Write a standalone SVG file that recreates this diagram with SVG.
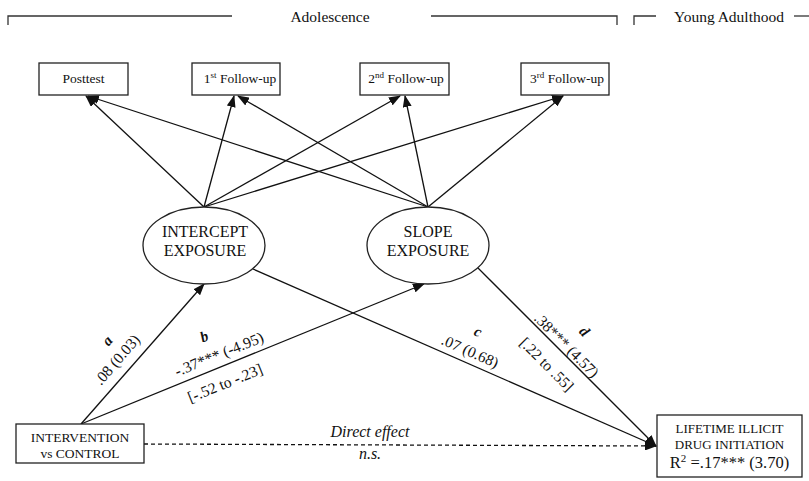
<svg xmlns="http://www.w3.org/2000/svg" width="809" height="481" viewBox="0 0 809 481">
<style>
text{font-family:"Liberation Serif","Times New Roman",serif;fill:#111;}
.box{fill:#fff;stroke:#222;stroke-width:1.3;}
.ell{fill:#fff;stroke:#222;stroke-width:1.3;}
.con{stroke:#111;stroke-width:1.3;fill:none;}
.dash{stroke:#111;stroke-width:1.3;fill:none;stroke-dasharray:4 3;}
.br{stroke:#333;stroke-width:1.3;fill:none;}
.t13{font-size:13.5px;}
.t15{font-size:16px;}
.lab{font-size:15.5px;}
.bi{font-size:15px;font-weight:bold;font-style:italic;}
.it{font-size:16px;font-style:italic;}
</style>
<defs>
<marker id="ah" markerWidth="12" markerHeight="9" refX="11" refY="4.5" orient="auto" markerUnits="userSpaceOnUse">
<path d="M0,0 L12,4.5 L0,9 z" fill="#111"/>
</marker>
</defs>

<g id="headers">
<path class="br" d="M8,25 V16 H232"/>
<path class="br" d="M431,16 H617 V25"/>
<path class="br" d="M634,25 V16 H656"/>
<path class="br" d="M794,16 H809"/>
<text x="330" y="22" text-anchor="middle" style="font-size:15.5px">Adolescence</text>
<text x="729" y="22" text-anchor="middle" style="font-size:15.5px">Young Adulthood</text>
</g>

<g id="connectors">
<line class="con" x1="204" y1="207" x2="86" y2="96" marker-end="url(#ah)"/>
<line class="con" x1="204" y1="207" x2="234" y2="96" marker-end="url(#ah)"/>
<line class="con" x1="204" y1="207" x2="400" y2="96" marker-end="url(#ah)"/>
<line class="con" x1="204" y1="207" x2="563" y2="96" marker-end="url(#ah)"/>
<line class="con" x1="428" y1="207" x2="88" y2="96" marker-end="url(#ah)"/>
<line class="con" x1="428" y1="207" x2="238" y2="96" marker-end="url(#ah)"/>
<line class="con" x1="428" y1="207" x2="405" y2="96" marker-end="url(#ah)"/>
<line class="con" x1="428" y1="207" x2="563" y2="96" marker-end="url(#ah)"/>
<line class="con" x1="81" y1="424" x2="204" y2="284" marker-end="url(#ah)"/>
<line class="con" x1="81" y1="424" x2="424" y2="284" marker-end="url(#ah)"/>
<line class="con" x1="253" y1="269" x2="656" y2="446" marker-end="url(#ah)"/>
<line class="con" x1="478" y1="268" x2="656" y2="446" marker-end="url(#ah)"/>
<line class="dash" x1="144" y1="444" x2="656" y2="446" marker-end="url(#ah)"/>
</g>

<g id="posttest">
<rect class="box" x="39" y="63" width="89" height="32"/>
<text class="t13" x="83.5" y="82.5" text-anchor="middle">Posttest</text>
</g>
<g id="followup1">
<rect class="box" x="192" y="63" width="88" height="32"/>
<text class="t13" x="240" y="82.5" text-anchor="middle">1<tspan font-size="9" dy="-5">st</tspan><tspan dy="5"> Follow-up</tspan></text>
</g>
<g id="followup2">
<rect class="box" x="360" y="63" width="89" height="32"/>
<text class="t13" x="406" y="82.5" text-anchor="middle">2<tspan font-size="9" dy="-5">nd</tspan><tspan dy="5"> Follow-up</tspan></text>
</g>
<g id="followup3">
<rect class="box" x="521" y="63" width="88" height="32"/>
<text class="t13" x="567" y="82.5" text-anchor="middle">3<tspan font-size="9" dy="-5">rd</tspan><tspan dy="5"> Follow-up</tspan></text>
</g>

<g id="intercept">
<ellipse class="ell" cx="204" cy="245.5" rx="61" ry="38.5"/>
<text class="t15" x="205" y="237" text-anchor="middle">INTERCEPT</text>
<text class="t15" x="205" y="256" text-anchor="middle">EXPOSURE</text>
</g>
<g id="slope">
<ellipse class="ell" cx="428" cy="245.5" rx="61" ry="38.5"/>
<text class="t15" x="428" y="237" text-anchor="middle">SLOPE</text>
<text class="t15" x="428" y="256" text-anchor="middle">EXPOSURE</text>
</g>

<g id="intervention">
<rect class="box" x="16" y="424" width="128" height="39"/>
<text class="t13" x="80" y="442" text-anchor="middle">INTERVENTION</text>
<text class="t13" x="80" y="458" text-anchor="middle">vs CONTROL</text>
</g>

<g id="lifetime">
<rect class="box" x="657" y="415" width="145" height="62"/>
<text x="729.5" y="433" text-anchor="middle" style="font-size:13px">LIFETIME ILLICIT</text>
<text x="729.5" y="449" text-anchor="middle" style="font-size:13px">DRUG INITIATION</text>
<text x="729.5" y="468" text-anchor="middle" style="font-size:16.5px">R<tspan font-size="11" dy="-6">2</tspan><tspan dy="6"> =.17*** (3.70)</tspan></text>
</g>

<g id="labels">
<text class="bi" text-anchor="middle" transform="translate(111,344) rotate(-49)">a</text>
<text class="lab" text-anchor="middle" transform="translate(121,363) rotate(-49)">.08 (0.03)</text>
<text class="bi" text-anchor="middle" transform="translate(206,341) rotate(-22)">b</text>
<text class="lab" text-anchor="middle" transform="translate(221,359) rotate(-22)">-.37*** (-4.95)</text>
<text class="lab" text-anchor="middle" transform="translate(227,388) rotate(-22)">[-.52 to -.23]</text>
<text class="bi" text-anchor="middle" transform="translate(476,336) rotate(24)">c</text>
<text class="lab" text-anchor="middle" transform="translate(468,356) rotate(24)">.07 (0.68)</text>
<text class="bi" text-anchor="middle" transform="translate(581,335) rotate(45)">d</text>
<text class="lab" text-anchor="middle" transform="translate(563,349) rotate(45)">.38*** (4.57)</text>
<text class="lab" text-anchor="middle" transform="translate(543,368) rotate(45)">[.22 to .55]</text>
<text class="it" x="370" y="437" text-anchor="middle">Direct effect</text>
<text class="it" x="370" y="459" text-anchor="middle">n.s.</text>
</g>
</svg>
